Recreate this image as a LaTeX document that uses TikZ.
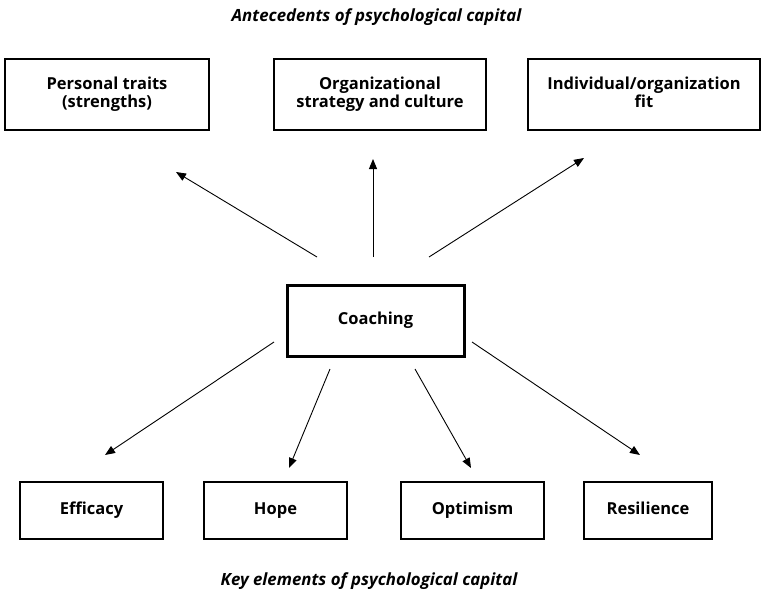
\documentclass[tikz,border=0pt]{standalone}
\usepackage{fontspec}
\setmainfont{Open Sans}
\usetikzlibrary{arrows.meta}
\begin{document}
\begin{tikzpicture}[x=1pt,y=-1pt,
  box/.style={draw, line width=1.3pt, inner sep=0pt, align=center,
    font=\bfseries\fontsize{16.5}{15.5}\selectfont},
  coachbox/.style={box, line width=3pt},
  caption/.style={inner sep=0pt, anchor=base, font=\bfseries\itshape\fontsize{16.8}{18}\selectfont},
  arr/.style={line width=0.9pt, -{Triangle[length=10pt,width=8pt]}}]
\fill[white] (0,0) rectangle (762,590);
\useasboundingbox (0,0) rectangle (762,590);

% captions
\node[caption] (ant) at (376.5,21) {Antecedents of psychological capital};
\node[caption] (key) at (369,585) {Key elements of psychological capital};

% top boxes
\node[box, minimum width=204pt, minimum height=71pt] (pt) at (107,94.5) {Personal traits\strut\\(strengths)\strut};
\node[box, minimum width=212pt, minimum height=71pt] (os) at (380,94.5) {Organizational\strut\\strategy and culture\strut};
\node[box, minimum width=232pt, minimum height=71pt] (fit) at (644,94.5) {Individual/organization\strut\\fit\strut};

% centre
\node[coachbox, minimum width=177pt, minimum height=71pt] (co) at (375.5,320.5) {Coaching\strut};

% bottom boxes
\node[box, minimum width=143pt, minimum height=57pt] (ef) at (91.5,510.5) {Efficacy\strut};
\node[box, minimum width=143pt, minimum height=57pt] (ho) at (275.5,510.5) {Hope\strut};
\node[box, minimum width=143pt, minimum height=57pt] (op) at (472.5,510.5) {Optimism\strut};
\node[box, minimum width=128pt, minimum height=57pt] (re) at (648,510.5) {Resilience\strut};

% arrow end points
\coordinate (s1) at (317,257);  \coordinate (e1) at (176,172);
\coordinate (s2) at (373,257);  \coordinate (e2) at (373,159);
\coordinate (s3) at (429,257);  \coordinate (e3) at (584,158);
\coordinate (t1) at (274,342);  \coordinate (f1) at (105,455);
\coordinate (t2) at (330,369);  \coordinate (f2) at (289,468);
\coordinate (t3) at (415,369);  \coordinate (f3) at (471,468);
\coordinate (t4) at (472,342);  \coordinate (f4) at (640,455);

\draw[arr] (s1) -- (e1);
\draw[arr] (s2) -- (e2);
\draw[arr] (s3) -- (e3);
\draw[arr] (t1) -- (f1);
\draw[arr] (t2) -- (f2);
\draw[arr] (t3) -- (f3);
\draw[arr] (t4) -- (f4);
\end{tikzpicture}
\end{document}
